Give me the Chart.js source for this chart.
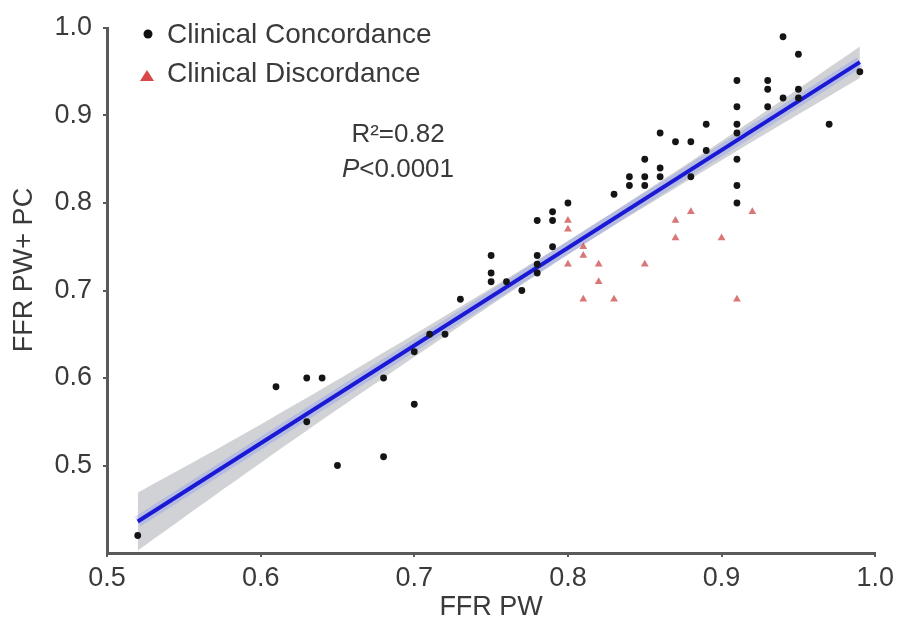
<!DOCTYPE html>
<html>
<head>
<meta charset="utf-8">
<script src="https://cdn.jsdelivr.net/npm/chart.js@4.4.1/dist/chart.umd.min.js"></script>
<style>
  html, body { margin: 0; padding: 0; background: #fff; }
  #wrap { width: 899px; height: 629px; position: relative; }
</style>
</head>
<body>
<div id="wrap"><canvas id="chart"></canvas></div>
<script>
// scatter values
const concX = [0.52, 0.61, 0.63, 0.64, 0.63, 0.65, 0.68, 0.68, 0.70, 0.70, 0.71, 0.72, 0.73,
  0.75, 0.75, 0.75, 0.76, 0.77, 0.78, 0.78, 0.78, 0.78, 0.79, 0.79, 0.79, 0.80, 0.83,
  0.84, 0.84, 0.85, 0.85, 0.85, 0.86, 0.86, 0.86, 0.87, 0.88, 0.88, 0.89, 0.89,
  0.91, 0.91, 0.91, 0.91, 0.91, 0.91, 0.91, 0.93, 0.93, 0.93, 0.94, 0.94, 0.95, 0.95, 0.95, 0.97, 0.99];
const concY = [0.42, 0.59, 0.60, 0.60, 0.55, 0.50, 0.60, 0.51, 0.63, 0.57, 0.65, 0.65, 0.69,
  0.74, 0.72, 0.71, 0.71, 0.70, 0.74, 0.73, 0.72, 0.78, 0.79, 0.78, 0.75, 0.80, 0.81,
  0.83, 0.82, 0.85, 0.83, 0.82, 0.88, 0.84, 0.83, 0.87, 0.87, 0.83, 0.89, 0.86,
  0.94, 0.91, 0.89, 0.88, 0.85, 0.82, 0.80, 0.94, 0.93, 0.91, 0.99, 0.92, 0.97, 0.93, 0.92, 0.89, 0.95];

const discX = [0.80, 0.80, 0.81, 0.81, 0.80, 0.82, 0.82, 0.81, 0.83, 0.85, 0.87, 0.87, 0.88, 0.90, 0.91, 0.92];
const discY = [0.78, 0.77, 0.75, 0.74, 0.73, 0.73, 0.71, 0.69, 0.69, 0.73, 0.78, 0.76, 0.79, 0.76, 0.69, 0.79];

// regression line end points and confidence band edges
const fitX = [0.52, 0.99];
const fitY = [0.436, 0.961];
const bandX     = [0.52, 0.60, 0.70, 0.80, 0.90, 0.99];
const bandUpper = [0.469, 0.547, 0.650, 0.757, 0.871, 0.979];
const bandLower = [0.403, 0.503, 0.624, 0.741, 0.849, 0.943];

const xTicks = [0.5, 0.6, 0.7, 0.8, 0.9, 1.0];
const yTicks = [0.5, 0.6, 0.7, 0.8, 0.9, 1.0];

const legendLabels = ['Clinical Concordance', 'Clinical Discordance'];
const statR2 = 'R\u00B2=0.82';
const statP  = '<0.0001';
const xTitle = 'FFR PW';
const yTitle = 'FFR PW+ PC';

const FONT = '"Liberation Sans", Arial, sans-serif';
const TEXT = '#3a3a3a';
const AXIS = '#5a5a5a';

const pts = (xs, ys) => xs.map((x, i) => ({ x, y: ys[i] }));

// legend, stats and the y title drawn on top of the plot
const overlay = {
  id: 'overlay',
  afterDraw(chart) {
    const ctx = chart.ctx;
    ctx.save();
    ctx.font = `28px ${FONT}`;
    ctx.textBaseline = 'middle';
    ctx.textAlign = 'left';

    // legend
    ctx.fillStyle = '#111';
    ctx.beginPath();
    ctx.arc(148, 34, 4.5, 0, Math.PI * 2);
    ctx.fill();
    ctx.fillStyle = '#d94848';
    ctx.beginPath();
    ctx.moveTo(147, 70); ctx.lineTo(154, 81); ctx.lineTo(140, 81); ctx.closePath();
    ctx.fill();
    ctx.fillStyle = TEXT;
    ctx.fillText(legendLabels[0], 167, 35);
    ctx.fillText(legendLabels[1], 167, 74);

    // stats
    ctx.font = `26px ${FONT}`;
    const cx = 398;
    let w = ctx.measureText(statR2).width;
    ctx.fillText(statR2, cx - w / 2, 135);
    ctx.font = `italic 26px ${FONT}`;
    const wp = ctx.measureText('P').width;
    ctx.font = `26px ${FONT}`;
    w = wp + ctx.measureText(statP).width;
    ctx.font = `italic 26px ${FONT}`;
    ctx.fillText('P', cx - w / 2, 170);
    ctx.font = `26px ${FONT}`;
    ctx.fillText(statP, cx - w / 2 + wp, 170);

    // y title
    ctx.font = `27px ${FONT}`;
    ctx.translate(25, 270);
    ctx.rotate(-Math.PI / 2);
    ctx.textAlign = 'center';
    ctx.fillText(yTitle, 0, 0);
    ctx.restore();
  },
};

new Chart(document.getElementById('chart'), {
  type: 'scatter',
  data: {
    datasets: [
      {
        type: 'line',
        data: pts(bandX, bandUpper),
        borderWidth: 0,
        pointRadius: 0,
        tension: 0.4,
        fill: '+1',
        backgroundColor: 'rgba(170,173,180,0.55)',
        order: 5,
      },
      {
        type: 'line',
        data: pts(bandX, bandLower),
        borderWidth: 0,
        pointRadius: 0,
        tension: 0.4,
        fill: false,
        order: 5,
      },
      {
        type: 'line',
        data: pts(fitX, fitY),
        borderColor: 'rgba(90,110,255,0.22)',
        borderWidth: 11,
        pointRadius: 0,
        fill: false,
        order: 4,
      },
      {
        type: 'line',
        data: pts(fitX, fitY),
        borderColor: '#1a1ad6',
        borderWidth: 4,
        pointRadius: 0,
        fill: false,
        order: 3,
      },
      {
        label: legendLabels[1],
        data: pts(discX, discY),
        pointStyle: 'triangle',
        pointRadius: 4.5,
        backgroundColor: 'rgba(205,72,72,0.75)',
        borderColor: 'rgba(205,72,72,0.75)',
        borderWidth: 0,
        order: 2,
      },
      {
        label: legendLabels[0],
        data: pts(concX, concY),
        pointStyle: 'circle',
        pointRadius: 3.4,
        backgroundColor: '#151515',
        borderColor: '#151515',
        borderWidth: 0,
        order: 1,
      },
    ],
  },
  options: {
    responsive: true,
    maintainAspectRatio: false,
    animation: false,
    layout: { padding: { top: 28, right: 22, left: 0, bottom: 0 } },
    plugins: { legend: { display: false }, tooltip: { enabled: false } },
    scales: {
      x: {
        type: 'linear',
        min: 0.5,
        max: 1.0,
        afterBuildTicks: s => { s.ticks = xTicks.map(v => ({ value: v })); },
        afterFit: s => { s.height = 76; },
        grid: { drawOnChartArea: false, drawTicks: true, tickLength: 4, color: AXIS, lineWidth: 2 },
        border: { color: AXIS, width: 3 },
        ticks: { color: TEXT, font: { family: FONT, size: 27 }, padding: 5, callback: v => v.toFixed(1) },
        title: { display: true, text: xTitle, color: TEXT, font: { family: FONT, size: 27 }, padding: { top: 0, bottom: 5 } },
      },
      y: {
        type: 'linear',
        min: 0.4,
        max: 1.0,
        afterBuildTicks: s => { s.ticks = yTicks.map(v => ({ value: v })); },
        afterFit: s => { s.width = 107; },
        grid: { drawOnChartArea: false, drawTicks: true, tickLength: 4, color: AXIS, lineWidth: 2 },
        border: { color: AXIS, width: 3 },
        ticks: { color: TEXT, font: { family: FONT, size: 27 }, padding: 11, callback: v => v.toFixed(1) },
      },
    },
  },
  plugins: [overlay],
});
</script>
</body>
</html>
